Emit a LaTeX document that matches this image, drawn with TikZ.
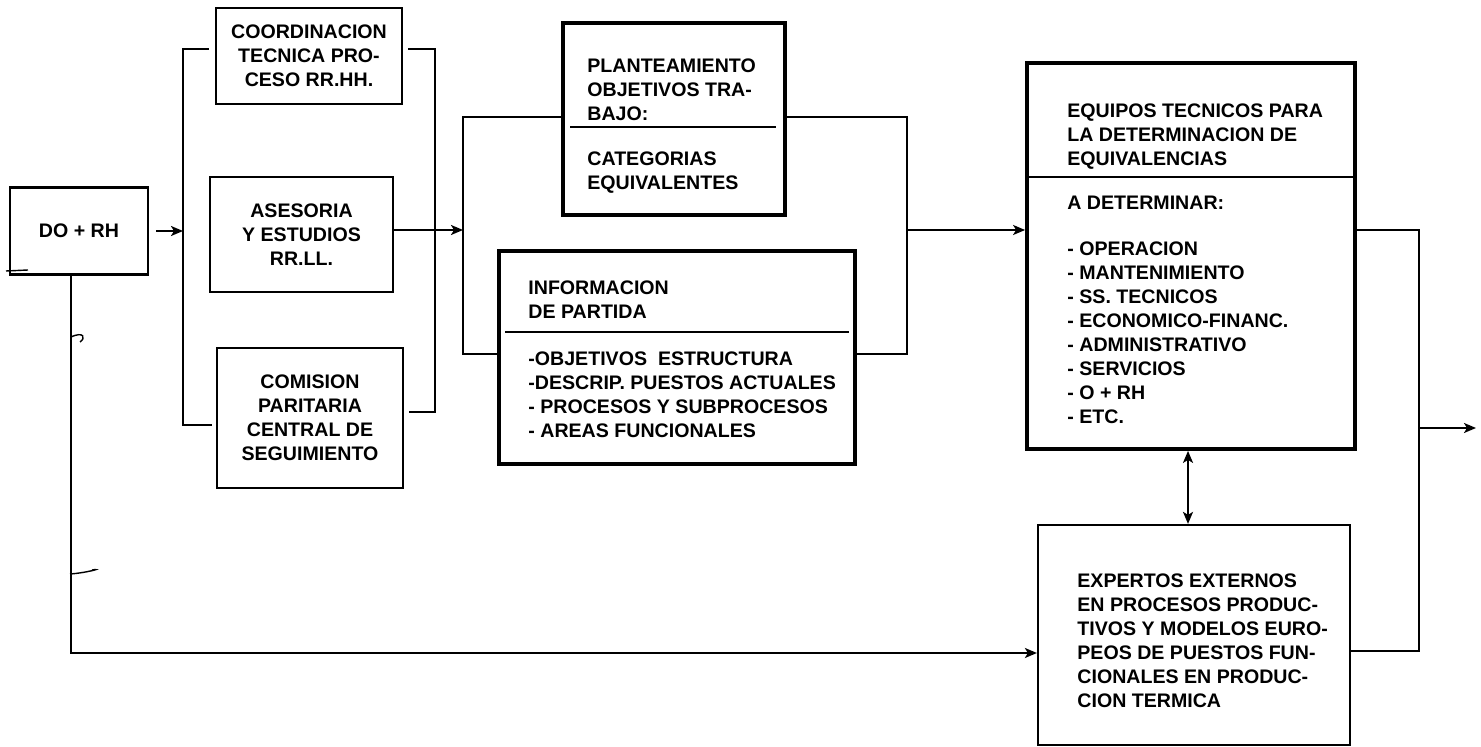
\documentclass[tikz,border=0pt]{standalone}
\usepackage{fontspec}
\setmainfont{Liberation Sans}
\usetikzlibrary{arrows.meta}
\newcommand\dlabel{\bfseries\fontsize{9.8pt}{12pt}\selectfont}
\begin{document}
\begin{tikzpicture}[x=0.5pt,y=-0.5pt,
  box/.style={draw, line width=1.1pt, inner sep=0pt, align=center, font=\dlabel},
  tbox/.style={draw, line width=1.9pt, inner sep=0pt},
  txt/.style={inner sep=0pt, anchor=north west, align=left, font=\dlabel},
  conn/.style={line width=1pt},
  tip/.tip={Stealth[length=6pt,width=5pt,inset=1.5pt]},
  arr/.style={conn, -tip},
  darr/.style={conn, tip-tip},
  handmark/.style={line width=0.7pt},
]
\useasboundingbox (0,0) rectangle (1481,747);
\fill[white] (0,0) rectangle (1481,747);

% boxes
\node[box, minimum width=69pt, minimum height=43.5pt] (dorh) at (79,231) {DO + RH};
\node[box, minimum width=93pt, minimum height=48pt] (coord) at (309,56) {COORDINACION\\TECNICA PRO-\\CESO RR.HH.};
\node[box, minimum width=91.5pt, minimum height=57.5pt] (ases) at (301.5,234.5) {ASESORIA\\Y ESTUDIOS\\RR.LL.};
\node[box, minimum width=93pt, minimum height=70pt] (comi) at (310,418) {COMISION\\PARITARIA\\CENTRAL DE\\SEGUIMIENTO};

\node[tbox, minimum width=111pt, minimum height=96pt] (plan) at (674,119) {};
\node[txt] (plant1) at (587,58) {PLANTEAMIENTO\\OBJETIVOS TRA-\\BAJO:};
\node[txt] (plant2) at (587,151) {CATEGORIAS\\EQUIVALENTES};
\coordinate (pd1) at (570,127);
\coordinate (pd2) at (776,127);
\draw[line width=1.2pt] (pd1) -- (pd2);

\node[tbox, minimum width=178pt, minimum height=106.5pt] (info) at (677,357.5) {};
\node[txt] (infot1) at (528,280) {INFORMACION\\DE PARTIDA};
\node[txt] (infot2) at (528,351) {-OBJETIVOS\ \ ESTRUCTURA\\-DESCRIP. PUESTOS ACTUALES\\- PROCESOS Y SUBPROCESOS\\- AREAS FUNCIONALES};
\coordinate (id1) at (505,332);
\coordinate (id2) at (849,332);
\draw[line width=1.2pt] (id1) -- (id2);

\node[tbox, minimum width=164pt, minimum height=193pt] (equi) at (1191,256) {};
\node[txt] (equit1) at (1067,103) {EQUIPOS TECNICOS PARA\\LA DETERMINACION DE\\EQUIVALENCIAS};
\node[txt] (equit2) at (1067,196) {A DETERMINAR:};
\node[txt] (equit3) at (1067,241) {- OPERACION\\- MANTENIMIENTO\\- SS. TECNICOS\\- ECONOMICO-FINANC.\\- ADMINISTRATIVO\\- SERVICIOS\\- O + RH\\- ETC.};
\coordinate (ed) at (0,177);
\draw[line width=1.2pt] (equi.west |- ed) -- (equi.east |- ed);

\node[box, minimum width=156pt, minimum height=110pt] (expe) at (1194,635) {};
\node[txt] (expet) at (1077,573) {EXPERTOS EXTERNOS\\EN PROCESOS PRODUC-\\TIVOS Y MODELOS EURO-\\PEOS DE PUESTOS FUN-\\CIONALES EN PRODUC-\\CION TERMICA};

% left bracket
\coordinate (lbT) at (183,49);
\coordinate (lbB) at (183,425);
\coordinate (lbA) at (183,230);
\draw[conn] (coord.west |- lbT) ++(-6,0) -- (lbT) -- (lbB) -- ++(29,0);
\draw[arr, shorten <=3.5pt] (dorh.east) -- (dorh.east -| lbA);

% right bracket
\coordinate (rbT) at (435,49);
\coordinate (rbB) at (435,412);
\draw[conn] (coord.east |- rbT) ++(5,0) -- (rbT) -- (rbB) -- ++(-26,0);

% to middle bracket
\coordinate (mA) at (463,230);
\draw[arr] (ases.east |- mA) -- (mA);

% middle brackets
\coordinate (mbTL) at (463,117);
\coordinate (mbBL) at (463,354);
\draw[conn] (plan.west |- mbTL) -- (mbTL) -- (mbBL) -- (info.west |- mbBL);
\coordinate (mbTR) at (907,117);
\coordinate (mbBR) at (907,354);
\draw[conn] (plan.east |- mbTR) -- (mbTR) -- (mbBR) -- (info.east |- mbBR);
\coordinate (mR) at (907,230);
\draw[arr] (mR) -- (equi.west |- mR);

% right path
\coordinate (rp) at (1419,230);
\coordinate (rpB) at (1419,651);
\draw[conn] (equi.east |- rp) -- (rp) -- (rpB) -- (expe.east |- rpB);
\coordinate (ex1) at (1419,428);
\coordinate (ex2) at (1476,428);
\draw[arr] (ex1) -- (ex2);

% double arrow
\coordinate (da) at (1188,0);
\draw[darr] (equi.south -| da) -- (expe.north -| da);

% bottom path
\coordinate (bl) at (71,653);
\draw[arr] (dorh.south -| bl) -- (bl) -- (expe.west |- bl);

% small hand-drawn marks on the scan
\coordinate (hm0a) at (6,271);
\coordinate (hm0b) at (28,270);
\draw[handmark] (hm0a) -- (hm0b);
\coordinate (hm1a) at (71,337);
\coordinate (hm1b) at (80,342);
\draw[handmark] (hm1a) .. controls (84,331) and (86,338) .. (hm1b);
\coordinate (hm2a) at (70,574);
\coordinate (hm2b) at (92,570);
\draw[handmark] (hm2a) .. controls (85,573) and (104,568) .. (hm2b);
\end{tikzpicture}
\end{document}
